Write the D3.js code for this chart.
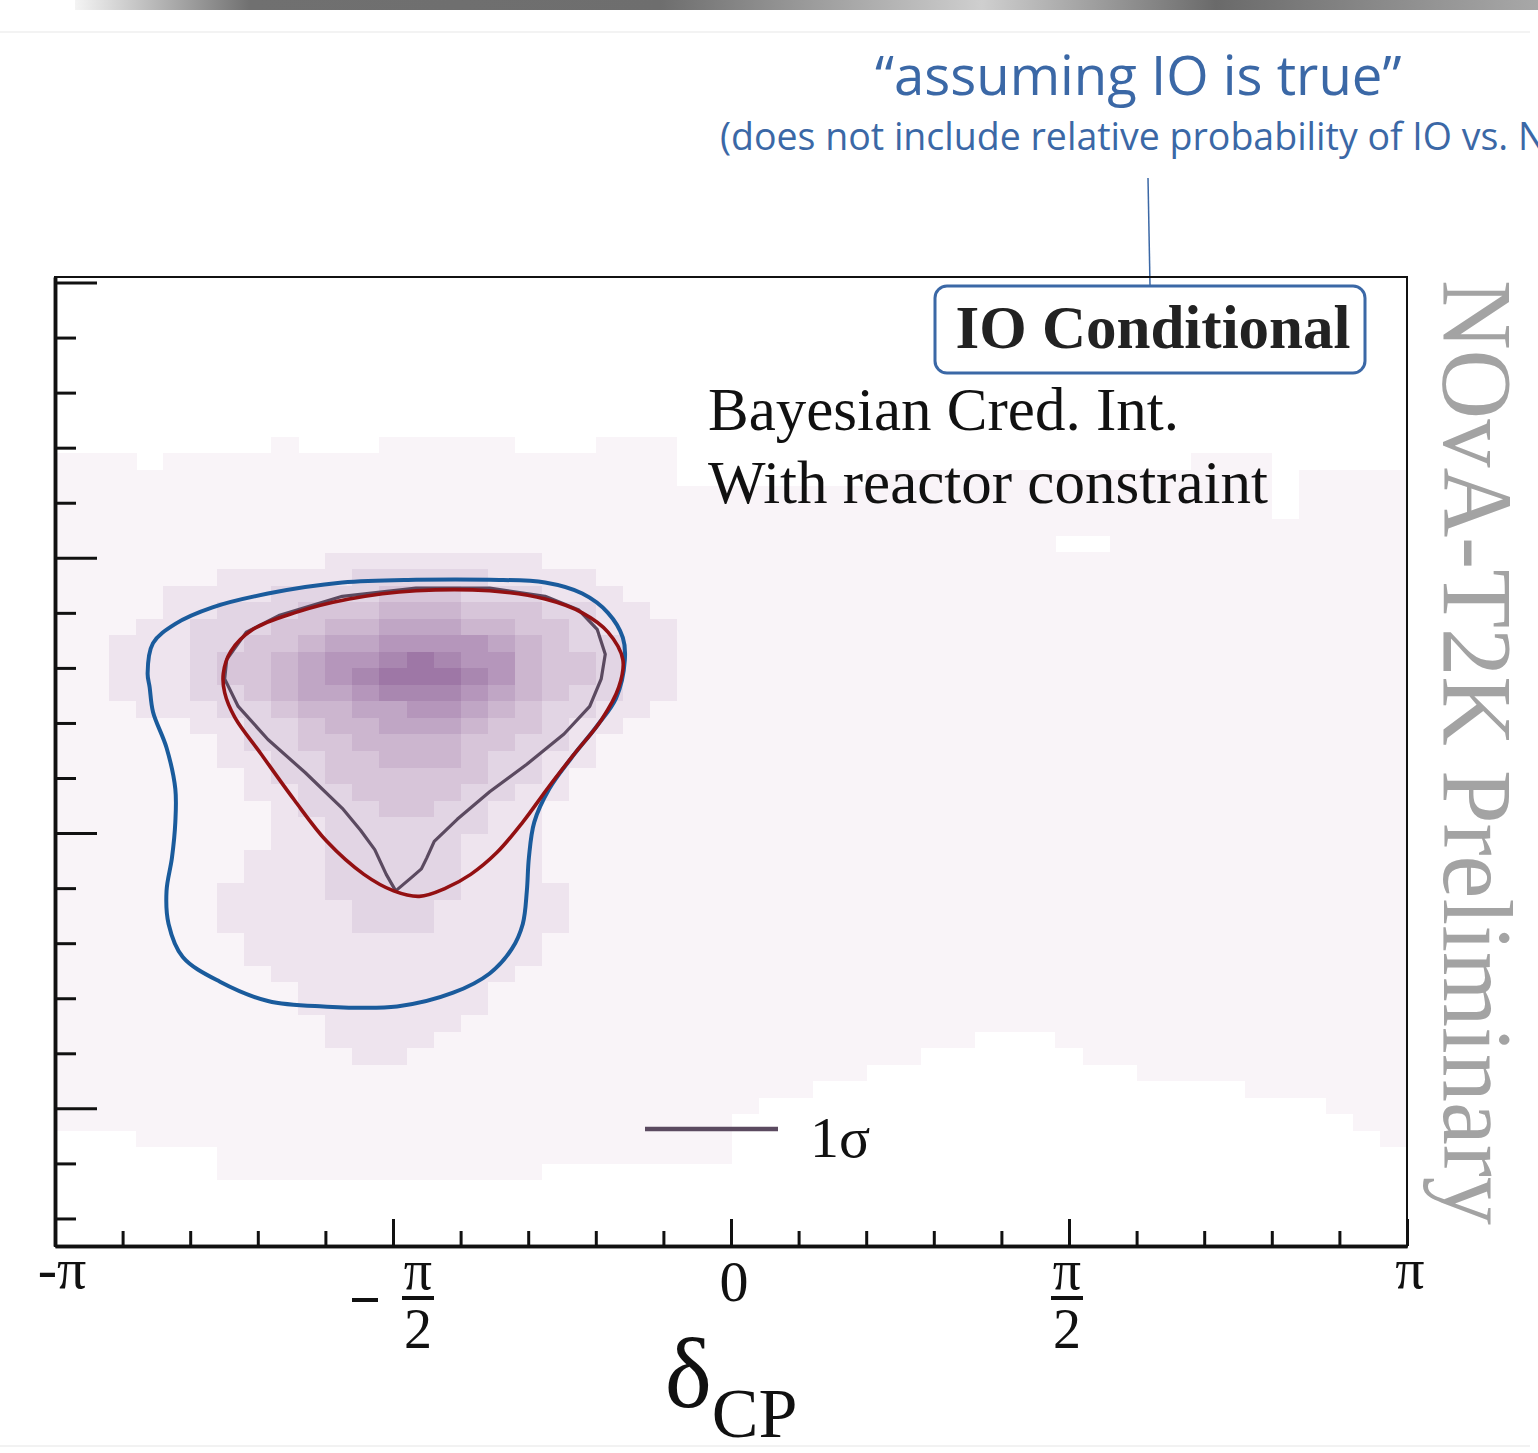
<!DOCTYPE html>
<html>
<head>
<meta charset="utf-8">
<script src="https://cdn.jsdelivr.net/npm/d3@7"></script>
<style>
  body { margin: 0; background: #fff; overflow: hidden; }
  svg { display: block; }
</style>
</head>
<body>
<div id="my_dataviz"></div>
<script>
// ---- data ----
// x: delta_CP in units of pi, y: sin^2(theta23)
const xBinWidth = 0.04;
const yBinWidth = 0.006;
const yBinStart = 0.35;

// faint posterior region: highest / lowest filled row per x bin
const bgTopRow = [47,47,47,46,47,47,47,47,48,47,47,47,48,48,48,48,48,47,47,47,48,48,48,
  45,45,45,45,45,45,45,46,46,46,46,46,46,46,46,46,46,46,46,47,47,47,43,46,46,46,46];
const bgBottomRow = [7,7,7,6,6,6,4,4,4,4,4,4,4,4,4,4,4,4,5,5,5,5,5,5,5,
  8,9,9,10,10,11,11,12,12,13,13,13,12,11,11,10,10,10,10,9,9,9,8,7,6];
// empty bins inside the region [xbin, ybin]
const emptyBins = [[37,42],[38,42]];

// darker core, rows 41 -> 11, x bins 2 -> 22 (shade level 1..9)
const coreFirstCol = 2;
const coreTopRow = 41;
const coreRows = [
  "111111112222222211111",
  "111122222333332222111",
  "112222333344433322211",
  "112233344455544433221",
  "122333445566655443222",
  "222334456677776543322",
  "222344567789877544322",
  "222344567899987544322",
  "222334566788876543322",
  "122233455667765433221",
  "111223345566654432211",
  "111123344555544332111",
  "111122334455543322111",
  "111112334444443321111",
  "111112233444433221111",
  "111111233344332211111",
  "111111223333332211111",
  "111111223333322211111",
  "111112223333322211111",
  "111112223333322211111",
  "111122223333322221111",
  "111122222333222221111",
  "111122222333222221111",
  "111112222222222211111",
  "111112222222222211111",
  "111111222222222111111",
  "111111122222221111111",
  "111111122222221111111",
  "111111112222211111111",
  "111111112222111111111",
  "111111111221111111111"
];

// credible interval contours [delta/pi, sin2theta23]
const blueContour = [[-0.863,0.558],[-0.855,0.569],[-0.822,0.576],[-0.767,0.582],[-0.685,0.587],
  [-0.575,0.591],[-0.466,0.592],[-0.357,0.592],[-0.275,0.591],[-0.220,0.587],[-0.182,0.580],
  [-0.160,0.571],[-0.157,0.563],[-0.170,0.549],[-0.198,0.539],[-0.237,0.527],[-0.269,0.516],
  [-0.291,0.504],[-0.299,0.491],[-0.302,0.479],[-0.308,0.467],[-0.324,0.458],[-0.357,0.449],
  [-0.411,0.442],[-0.494,0.437],[-0.603,0.437],[-0.685,0.439],[-0.756,0.446],[-0.811,0.455],
  [-0.832,0.467],[-0.835,0.479],[-0.827,0.491],[-0.822,0.504],[-0.822,0.516],[-0.835,0.531],
  [-0.855,0.544],[-0.860,0.553]];
const redContour = [[-0.751,0.558],[-0.740,0.566],[-0.707,0.574],[-0.646,0.580],[-0.565,0.585],
  [-0.466,0.588],[-0.357,0.588],[-0.275,0.585],[-0.220,0.580],[-0.182,0.573],[-0.160,0.563],
  [-0.166,0.553],[-0.192,0.541],[-0.231,0.529],[-0.269,0.517],[-0.308,0.504],[-0.346,0.493],
  [-0.385,0.485],[-0.422,0.480],[-0.461,0.477],[-0.499,0.479],[-0.543,0.485],[-0.598,0.497],
  [-0.646,0.512],[-0.696,0.529],[-0.734,0.542],[-0.749,0.551]];
const sigmaContour = [[-0.746,0.563],[-0.717,0.573],[-0.669,0.579],[-0.575,0.586],[-0.466,0.589],
  [-0.357,0.589],[-0.275,0.586],[-0.225,0.581],[-0.198,0.574],[-0.186,0.565],[-0.192,0.556],
  [-0.209,0.546],[-0.247,0.536],[-0.302,0.525],[-0.357,0.515],[-0.405,0.505],[-0.439,0.497],
  [-0.450,0.491],[-0.458,0.487],[-0.472,0.484],[-0.496,0.479],[-0.510,0.485],[-0.527,0.494],
  [-0.548,0.501],[-0.575,0.509],[-0.630,0.522],[-0.685,0.534],[-0.729,0.546],[-0.749,0.556]];

const xMajorTicks = [-1, -0.5, 0, 0.5, 1];
const xMinorTicks = [-0.9,-0.8,-0.7,-0.6,-0.4,-0.3,-0.2,-0.1,0.1,0.2,0.3,0.4,0.6,0.7,0.8,0.9];
const xTickLabels = ["-π", "-π/2", "0", "π/2", "π"];
const yMajorTicks = [0.4, 0.5, 0.6, 0.7];
const yMinorTicks = [0.36,0.38,0.42,0.44,0.46,0.48,0.52,0.54,0.56,0.58,0.62,0.64,0.66,0.68];

// ---- layout ----
const W = 1538, H = 1453;
const margin = {top: 277, right: 131, bottom: 207, left: 55},
    width = W - margin.left - margin.right,
    height = H - margin.top - margin.bottom;

const root = d3.select("#my_dataviz")
  .append("svg")
    .attr("width", W)
    .attr("height", H);

const serif = "'Liberation Serif', 'Times New Roman', serif";
const sans = "'Open Sans', 'Noto Sans', sans-serif";
const noteBlue = "#3b68a6";

// slide decoration at the top
const defs = root.append("defs");
const grad = defs.append("linearGradient").attr("id", "topbar");
[[0,"#f4f4f4"],[0.12,"#707070"],[0.4,"#6e6e6e"],[0.62,"#cfcfcf"],[0.78,"#6a6a6a"],[1,"#a8a8a8"]]
  .forEach(s => grad.append("stop").attr("offset", s[0]).attr("stop-color", s[1]));
root.append("rect").attr("x", 75).attr("y", 0).attr("width", W - 75).attr("height", 10)
  .attr("fill", "url(#topbar)");
root.append("line").attr("x1", 0).attr("x2", 1530).attr("y1", 32).attr("y2", 32)
  .attr("stroke", "#efefef").attr("stroke-width", 1.5);

// annotation (the second line runs off the slide edge, as in the original)
root.append("text").attr("x", 875).attr("y", 95)
  .attr("font-family", sans).attr("font-size", 54.5).attr("fill", noteBlue)
  .text("“assuming IO is true”");
root.append("text").attr("x", 720).attr("y", 150)
  .attr("font-family", sans).attr("font-size", 37.5).attr("fill", noteBlue)
  .text("(does not include relative probability of IO vs. NO)");
root.append("line").attr("x1", 1148).attr("y1", 178).attr("x2", 1150).attr("y2", 285)
  .attr("stroke", noteBlue).attr("stroke-width", 1.5);

const svg = root.append("g")
  .attr("transform", `translate(${margin.left},${margin.top})`);

defs.append("clipPath").attr("id", "plotclip")
  .append("rect").attr("width", width).attr("height", height);

// scales
const x = d3.scaleLinear().domain([-1, 1]).range([0, width]);
const y = d3.scaleLinear().domain([0.35, 0.702]).range([height, 0]);
const shade = d3.scaleLinear().domain([1, 9]).range(["#f9f4f8", "#9e77a6"]);

// build histogram cells
const cells = [];
const nx = bgTopRow.length;
const ny = Math.ceil((0.702 - yBinStart) / yBinWidth);
for (let i = 0; i < nx; i++) {
  for (let j = 0; j < ny; j++) {
    let level = (j <= bgTopRow[i] && j >= bgBottomRow[i]) ? 1 : 0;
    const r = coreTopRow - j, c = i - coreFirstCol;
    if (r >= 0 && r < coreRows.length && c >= 0 && c < coreRows[r].length) {
      level = Math.max(level, +coreRows[r][c]);
    }
    if (emptyBins.some(b => b[0] === i && b[1] === j)) level = 0;
    if (level > 0) cells.push({i, j, level});
  }
}

const hist = svg.append("g").attr("clip-path", "url(#plotclip)");
hist.selectAll("rect")
  .data(cells)
  .enter()
  .append("rect")
    .attr("x", d => x(-1 + d.i * xBinWidth))
    .attr("y", d => y(yBinStart + (d.j + 1) * yBinWidth))
    .attr("width", d => x(-1 + (d.i + 1) * xBinWidth) - x(-1 + d.i * xBinWidth) + 0.5)
    .attr("height", d => y(yBinStart + d.j * yBinWidth) - y(yBinStart + (d.j + 1) * yBinWidth) + 0.5)
    .attr("fill", d => shade(d.level))
    .attr("shape-rendering", "crispEdges");

// contours
const smooth = d3.line().x(d => x(d[0])).y(d => y(d[1])).curve(d3.curveCatmullRomClosed.alpha(0.5));
const jagged = d3.line().x(d => x(d[0])).y(d => y(d[1])).curve(d3.curveLinearClosed);

svg.append("path").datum(blueContour)
  .attr("fill", "none").attr("stroke", "#1a5b9c").attr("stroke-width", 4)
  .attr("d", smooth);
svg.append("path").datum(sigmaContour)
  .attr("fill", "none").attr("stroke", "#5b4a60").attr("stroke-width", 3.2)
  .attr("stroke-linejoin", "round")
  .attr("d", jagged);
svg.append("path").datum(redContour)
  .attr("fill", "none").attr("stroke", "#931012").attr("stroke-width", 3.6)
  .attr("d", smooth);

// frame
svg.append("rect").attr("width", width).attr("height", height)
  .attr("fill", "none").attr("stroke", "#111").attr("stroke-width", 2);

// axes
const xMinor = svg.append("g").attr("transform", `translate(0,${height})`)
  .call(d3.axisBottom(x).tickValues(xMinorTicks).tickSize(-15).tickSizeOuter(0).tickFormat(""));
const xMajor = svg.append("g").attr("transform", `translate(0,${height})`)
  .call(d3.axisBottom(x).tickValues(xMajorTicks).tickSize(-27).tickSizeOuter(0).tickFormat(""));
const yMinor = svg.append("g")
  .call(d3.axisLeft(y).tickValues(yMinorTicks).tickSize(-21).tickSizeOuter(0).tickFormat(""));
const yMajor = svg.append("g")
  .call(d3.axisLeft(y).tickValues(yMajorTicks).tickSize(-42).tickSizeOuter(0).tickFormat(""));
[xMinor, xMajor, yMinor, yMajor].forEach(g => {
  g.select(".domain").attr("stroke", "#111").attr("stroke-width", 3.5);
  g.selectAll(".tick line").attr("stroke", "#111").attr("stroke-width", 3);
});

// x tick labels (fractions of pi)
xMajorTicks.forEach((v, k) => {
  const lab = xTickLabels[k];
  const px = x(v);
  const g = svg.append("g").attr("font-family", serif).attr("fill", "#111");
  if (lab.includes("/")) {
    const neg = lab.startsWith("-");
    const cx = px + (neg ? 25 : -2);
    g.append("text").attr("x", cx).attr("y", 1289 - margin.top)
      .attr("text-anchor", "middle").attr("font-size", 56).text("π");
    g.append("line").attr("x1", cx - 16).attr("x2", cx + 16)
      .attr("y1", 1298 - margin.top).attr("y2", 1298 - margin.top)
      .attr("stroke", "#111").attr("stroke-width", 4);
    g.append("text").attr("x", cx).attr("y", 1348 - margin.top)
      .attr("text-anchor", "middle").attr("font-size", 56).text("2");
    if (neg) {
      g.append("line").attr("x1", cx - 66).attr("x2", cx - 40)
        .attr("y1", 1300 - margin.top).attr("y2", 1300 - margin.top)
        .attr("stroke", "#111").attr("stroke-width", 4);
    }
  } else {
    g.append("text").attr("x", px + (v === -1 ? 7 : 3)).attr("y", (v === 0 ? 1301 : 1288) - margin.top)
      .attr("text-anchor", "middle").attr("font-size", 58).text(lab);
  }
});

// x axis title
const xt = svg.append("text").attr("x", x(0)).attr("y", 1407 - margin.top)
  .attr("font-family", serif).attr("fill", "#111").attr("text-anchor", "middle");
xt.append("tspan").attr("font-size", 100).text("δ");
xt.append("tspan").attr("font-size", 70).attr("dy", 30).text("CP");

// labels inside the frame
svg.append("rect").attr("x", 935 - margin.left).attr("y", 286 - margin.top)
  .attr("width", 430).attr("height", 87).attr("rx", 12)
  .attr("fill", "#fff").attr("stroke", noteBlue).attr("stroke-width", 3);
svg.append("text").attr("x", 1153 - margin.left).attr("y", 348 - margin.top)
  .attr("text-anchor", "middle").attr("font-family", serif).attr("font-weight", "bold")
  .attr("font-size", 61).attr("fill", "#222").text("IO Conditional");
svg.append("text").attr("x", 708 - margin.left).attr("y", 430 - margin.top)
  .attr("font-family", serif).attr("font-size", 61).attr("fill", "#111").text("Bayesian Cred. Int.");
svg.append("text").attr("x", 708 - margin.left).attr("y", 503 - margin.top)
  .attr("font-family", serif).attr("font-size", 61).attr("fill", "#111").text("With reactor constraint");

// legend
svg.append("line").attr("x1", 645 - margin.left).attr("x2", 778 - margin.left)
  .attr("y1", 1129 - margin.top).attr("y2", 1129 - margin.top)
  .attr("stroke", "#5b4a60").attr("stroke-width", 4.5);
svg.append("text").attr("x", 810 - margin.left).attr("y", 1157 - margin.top)
  .attr("font-family", serif).attr("font-size", 58).attr("fill", "#111").text("1σ");

// watermark
root.append("text")
  .attr("transform", "translate(1444,280) rotate(90)")
  .attr("font-family", serif).attr("font-size", 100).attr("fill", "#a3a3a3")
  .attr("textLength", 945).attr("lengthAdjust", "spacingAndGlyphs")
  .text("NOvA-T2K Preliminary");

root.append("line").attr("x1", 0).attr("x2", 1530).attr("y1", 1446).attr("y2", 1446)
  .attr("stroke", "#eeeeee").attr("stroke-width", 1.5);
</script>
</body>
</html>
